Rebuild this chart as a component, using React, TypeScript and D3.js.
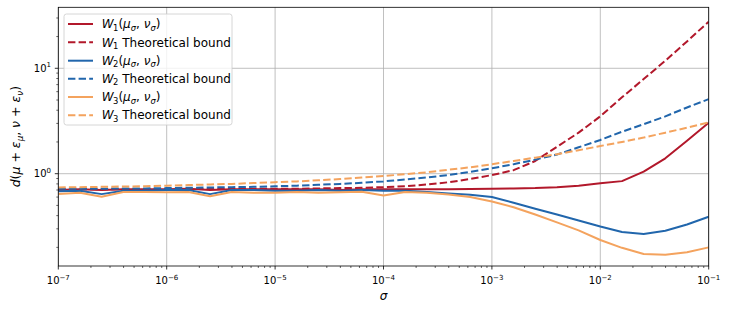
import React from 'react';
import * as d3 from 'd3';

// sample points, log10(sigma)
const sigmaExp = [
  -7.0, -6.8, -6.6, -6.4, -6.2, -6.0, -5.8, -5.6, -5.4, -5.2, -5.0,
  -4.8, -4.6, -4.4, -4.2, -4.0, -3.8, -3.6, -3.4, -3.2, -3.0,
  -2.8, -2.6, -2.4, -2.2, -2.0, -1.8, -1.6, -1.4, -1.2, -1.0,
];

const w1 = [
  0.70, 0.71, 0.70, 0.71, 0.71, 0.71, 0.72, 0.70, 0.71, 0.71, 0.71,
  0.71, 0.71, 0.70, 0.71, 0.71, 0.71, 0.71, 0.71, 0.715, 0.72,
  0.725, 0.73, 0.745, 0.77, 0.81, 0.85, 1.045, 1.4, 2.05, 3.05,
];
const w1Bound = [
  0.71, 0.71, 0.71, 0.71, 0.71, 0.715, 0.715, 0.715, 0.72, 0.72, 0.72,
  0.72, 0.725, 0.73, 0.735, 0.745, 0.76, 0.79, 0.83, 0.89, 0.97,
  1.08, 1.32, 1.8, 2.45, 3.5, 5.3, 7.9, 11.8, 18.0, 27.7,
];
const w2 = [
  0.68, 0.69, 0.64, 0.69, 0.69, 0.70, 0.70, 0.64, 0.70, 0.70, 0.69,
  0.69, 0.70, 0.69, 0.70, 0.69, 0.69, 0.67, 0.65, 0.63, 0.60,
  0.53, 0.465, 0.41, 0.36, 0.315, 0.28, 0.268, 0.287, 0.33, 0.39,
];
const w2Bound = [
  0.72, 0.72, 0.72, 0.725, 0.725, 0.73, 0.735, 0.74, 0.745, 0.75, 0.76,
  0.77, 0.785, 0.80, 0.82, 0.845, 0.88, 0.92, 0.97, 1.04, 1.125,
  1.23, 1.36, 1.52, 1.78, 2.09, 2.5, 2.95, 3.5, 4.25, 5.1,
];
const w3 = [
  0.64, 0.66, 0.605, 0.67, 0.67, 0.665, 0.67, 0.61, 0.67, 0.66, 0.66,
  0.67, 0.66, 0.665, 0.675, 0.62, 0.67, 0.66, 0.635, 0.60, 0.545,
  0.48, 0.41, 0.345, 0.29, 0.235, 0.198, 0.173, 0.17, 0.18, 0.20,
];
const w3Bound = [
  0.74, 0.745, 0.75, 0.755, 0.76, 0.77, 0.78, 0.79, 0.80, 0.815, 0.83,
  0.845, 0.865, 0.89, 0.92, 0.95, 0.99, 1.03, 1.09, 1.15, 1.23,
  1.32, 1.42, 1.53, 1.67, 1.83, 2.0, 2.2, 2.45, 2.73, 3.07,
];

const xTickExp = [-7, -6, -5, -4, -3, -2, -1];
const yTickExp = [0, 1];

const RED = '#b2182b';
const BLUE = '#2166ac';
const ORANGE = '#f4a35e';

const series = [
  { values: w1, color: RED, dashed: false, idx: '1', bound: false },
  { values: w1Bound, color: RED, dashed: true, idx: '1', bound: true },
  { values: w2, color: BLUE, dashed: false, idx: '2', bound: false },
  { values: w2Bound, color: BLUE, dashed: true, idx: '2', bound: true },
  { values: w3, color: ORANGE, dashed: false, idx: '3', bound: false },
  { values: w3Bound, color: ORANGE, dashed: true, idx: '3', bound: true },
];

const W = 731;
const H = 312;
const L = 58.3, R = 708.7, T = 7.3, B = 266;
const FONT = 'DejaVu Sans';

function LegendLabel({ idx, bound, x, y }: { idx: string; bound: boolean; x: number; y: number }) {
  if (bound) {
    return (
      <text x={x} y={y} fontFamily={FONT} fontSize={12} fill="#000">
        <tspan fontStyle="italic">W</tspan>
        <tspan fontSize={8.4} dy={2.5} dx={-0.5}>{idx}</tspan>
        <tspan dy={-2.5}> Theoretical bound</tspan>
      </text>
    );
  }
  return (
    <text x={x} y={y} fontFamily={FONT} fontSize={12} fill="#000">
      <tspan fontStyle="italic">W</tspan>
      <tspan fontSize={8.4} dy={2.5} dx={-0.5}>{idx}</tspan>
      <tspan dy={-2.5}>(</tspan>
      <tspan fontStyle="italic">μ</tspan>
      <tspan fontSize={8.4} fontStyle="italic" dy={2.5}>σ</tspan>
      <tspan dy={-2.5}>, </tspan>
      <tspan fontStyle="italic">ν</tspan>
      <tspan fontSize={8.4} fontStyle="italic" dy={2.5}>σ</tspan>
      <tspan dy={-2.5}>)</tspan>
    </text>
  );
}

export default function App() {
  const sigma = sigmaExp.map((e) => Math.pow(10, e));
  const x = d3.scaleLog().domain([1e-7, 1e-1]).range([L, R]);
  const y = d3.scaleLog().domain([0.1331, 37.9]).range([B, T]);

  const line = d3
    .line<number>()
    .x((_, i) => x(sigma[i]))
    .y((d) => y(d));

  const xMinor: number[] = [];
  for (let e = -7; e < -1; e++) {
    for (let m = 2; m <= 9; m++) xMinor.push(m * Math.pow(10, e));
  }
  const yMinor: number[] = [];
  for (let e = -1; e <= 1; e++) {
    for (let m = 2; m <= 9; m++) {
      const v = m * Math.pow(10, e);
      if (v > 0.1331 && v < 37.9) yMinor.push(v);
    }
  }

  const legendRows = [24, 42.3, 60.7, 78.7, 97, 115.2];

  return (
    <svg width={W} height={H} style={{ position: 'absolute', left: 0, top: 0 }}>
      <defs>
        <clipPath id="plot">
          <rect x={L} y={T} width={R - L} height={B - T} />
        </clipPath>
      </defs>
      <rect x={0} y={0} width={W} height={H} fill="#fff" />

      {/* grid */}
      <g stroke="#b0b0b0" strokeWidth={0.8}>
        {xTickExp.map((e) => (
          <line key={'gx' + e} x1={x(Math.pow(10, e))} x2={x(Math.pow(10, e))} y1={T} y2={B} />
        ))}
        {yTickExp.map((e) => (
          <line key={'gy' + e} x1={L} x2={R} y1={y(Math.pow(10, e))} y2={y(Math.pow(10, e))} />
        ))}
      </g>

      {/* series */}
      <g clipPath="url(#plot)" fill="none">
        {series.map((s, i) => (
          <path
            key={i}
            d={line(s.values) || ''}
            stroke={s.color}
            strokeWidth={2}
            strokeDasharray={s.dashed ? '7.4 3.2' : undefined}
            strokeLinejoin="round"
          />
        ))}
      </g>

      {/* spines */}
      <rect x={L} y={T} width={R - L} height={B - T} fill="none" stroke="#000" strokeWidth={0.8} />

      {/* ticks */}
      <g stroke="#000" strokeWidth={0.8}>
        {xTickExp.map((e) => (
          <line key={'tx' + e} x1={x(Math.pow(10, e))} x2={x(Math.pow(10, e))} y1={B} y2={B + 3.5} />
        ))}
        {xMinor.map((v, i) => (
          <line key={'mx' + i} x1={x(v)} x2={x(v)} y1={B} y2={B + 2} strokeWidth={0.6} />
        ))}
        {yTickExp.map((e) => (
          <line key={'ty' + e} x1={L - 3.5} x2={L} y1={y(Math.pow(10, e))} y2={y(Math.pow(10, e))} />
        ))}
        {yMinor.map((v, i) => (
          <line key={'my' + i} x1={L - 2} x2={L} y1={y(v)} y2={y(v)} strokeWidth={0.6} />
        ))}
      </g>

      {/* x tick labels */}
      {xTickExp.map((e) => (
        <text key={'lx' + e} x={x(Math.pow(10, e))} y={284} textAnchor="middle" fontFamily={FONT} fontSize={10}>
          10
          <tspan fontSize={7} dy={-4.5}>{'−' + Math.abs(e)}</tspan>
        </text>
      ))}
      {/* y tick labels */}
      {yTickExp.map((e) => (
        <text key={'ly' + e} x={51} y={y(Math.pow(10, e)) + 3.5} textAnchor="end" fontFamily={FONT} fontSize={10}>
          10
          <tspan fontSize={7} dy={-4.5}>{String(e)}</tspan>
        </text>
      ))}

      {/* axis labels */}
      <text x={(L + R) / 2} y={300} textAnchor="middle" fontFamily={FONT} fontSize={12} fontStyle="italic">
        σ
      </text>
      <text
        transform={`translate(20, ${(T + B) / 2}) rotate(-90)`}
        textAnchor="middle"
        fontFamily={FONT}
        fontSize={12.5}
      >
        <tspan fontStyle="italic">d</tspan>
        <tspan>(</tspan>
        <tspan fontStyle="italic">μ</tspan>
        <tspan> + </tspan>
        <tspan fontStyle="italic">ε</tspan>
        <tspan fontSize={8.7} fontStyle="italic" dy={2.5}>μ</tspan>
        <tspan dy={-2.5}>, </tspan>
        <tspan fontStyle="italic">ν</tspan>
        <tspan> + </tspan>
        <tspan fontStyle="italic">ε</tspan>
        <tspan fontSize={8.7} fontStyle="italic" dy={2.5}>ν</tspan>
        <tspan dy={-2.5}>)</tspan>
      </text>

      {/* legend */}
      <g>
        <rect x={64} y={14} width={168} height={111} rx={2.5} fill="#fff" fillOpacity={0.8} stroke="#cccccc" strokeWidth={0.8} />
        {series.map((s, i) => (
          <g key={'lg' + i}>
            <line
              x1={68}
              x2={93}
              y1={legendRows[i]}
              y2={legendRows[i]}
              stroke={s.color}
              strokeWidth={2}
              strokeDasharray={s.dashed ? '7.4 3.2' : undefined}
            />
            <LegendLabel idx={s.idx} bound={s.bound} x={101.7} y={legendRows[i] + 4.2} />
          </g>
        ))}
      </g>
    </svg>
  );
}
